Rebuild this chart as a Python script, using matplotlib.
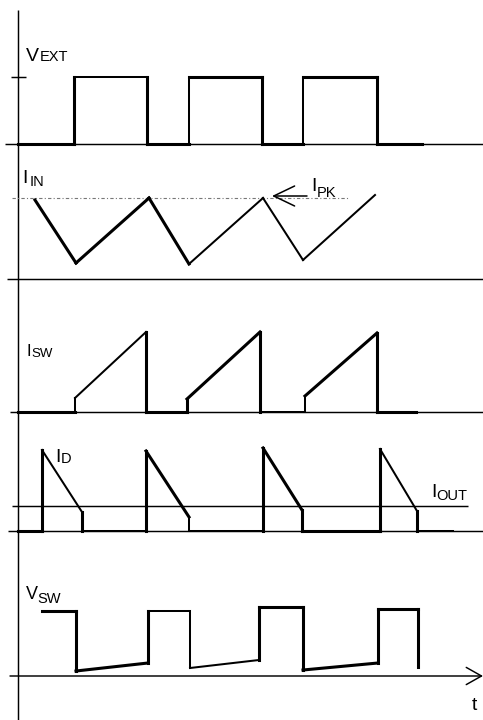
import matplotlib
matplotlib.use("Agg")
import matplotlib.pyplot as plt
import numpy as np
from matplotlib.collections import LineCollection

plt.rcParams['font.family'] = ['Liberation Sans', 'DejaVu Sans']

# time in arbitrary units (0 = vertical axis), levels = height above each trace's baseline
vext_t = [0, 56, 56, 129, 129, 171, 171, 244, 244, 285, 285, 359, 359, 404]
vext_v = [0, 0, 67, 67, 0, 0, 67, 67, 0, 0, 67, 67, 0, 0]

iin_t = [17, 58, 131, 171, 245, 285, 357]
iin_v = [79, 16, 81, 15, 81, 19, 84]
ipk_level = 81

isw_t = [0, 57, 57, 128, 128, 169, 169, 242, 242, 287, 287, 359, 359, 398]
isw_v = [0, 0, 14, 80, 0, 0, 13, 80, 0, 0, 16, 79, 0, 0]

id_t = [0, 24, 24, 64, 64, 128, 128, 171, 171, 245, 245, 284, 284, 362, 362, 399, 399, 435]
id_v = [0, 0, 81, 19, 0, 0, 80, 14, 0, 0, 83, 21, 0, 0, 82, 20, 0, 0]
iout_level = 25

vsw_t = [24, 58, 58, 130, 130, 172, 172, 241, 241, 285, 285, 360, 360, 400, 400]
vsw_v = [65, 65, 5, 13, 65, 65, 8, 16, 69, 69, 6, 13, 67, 67, 9]

# styles / layout
T, M = 2.2, 1.45
base_lw = 1.05
vext_w = [T, T, M, T, T, M, T, T, T, M, T, T, T]
iin_w = [T, T, T, M, M, M]
isw_w = [T, M, M, T, T, T, T, T, M, M, T, T, T]
id_w = [T, T, M, T, M, T, T, M, M, T, T, T, T, T, M, T, M]
vsw_w = [T, T, T, T, M, M, M, T, T, T, T, T, T, T]

base = {'vext': 144, 'iin': 279, 'isw': 412, 'id': 531, 'vsw': 676}

fig = plt.figure(figsize=(4.83, 7.2), dpi=100)
ax = fig.add_axes([0, 0, 1, 1])
ax.set_xlim(-18, 465)
ax.set_ylim(720, 0)
ax.axis('off')


def trace(t, v, y0, widths):
    pts = np.column_stack([t, y0 - np.array(v)])
    segs = [pts[i:i + 2] for i in range(len(pts) - 1)]
    lc = LineCollection(segs, linewidths=widths, colors='black',
                        capstyle='projecting', joinstyle='miter')
    ax.add_collection(lc)


def label(x, y, main, sub, xs, ys, size=14, subsize=10.5):
    ax.text(x, y, main, fontsize=size, va='baseline', ha='left')
    ax.text(xs, ys, sub, fontsize=subsize, va='baseline', ha='left')


# vertical axis
ax.vlines(0, 10, 720, color='black', lw=base_lw)

# baselines
ax.hlines(base['vext'], -13, 465, color='black', lw=base_lw)
ax.hlines(base['vext'] - vext_v[2], -7, 8, color='black', lw=base_lw)
ax.hlines(base['iin'], -11, 465, color='black', lw=base_lw)
ax.hlines(base['isw'], -8, 465, color='black', lw=base_lw)
ax.hlines(base['id'], -10, 465, color='black', lw=base_lw)
ax.hlines(base['id'] - iout_level, -6, 450, color='black', lw=base_lw)
ax.annotate('', xy=(465, base['vsw']), xytext=(-8, base['vsw']),
            arrowprops=dict(arrowstyle='->,head_length=1.1,head_width=0.62',
                            mutation_scale=10, lw=base_lw, color='black',
                            shrinkA=0, shrinkB=0))

# I_PK dotted level
ax.hlines(base['iin'] - ipk_level, -6, 330, color='#777777', lw=0.8,
          linestyles=[(0, (3, 2, 1, 2))])

trace(vext_t, vext_v, base['vext'], vext_w)
trace(iin_t, iin_v, base['iin'], iin_w)
trace(isw_t, isw_v, base['isw'], isw_w)
trace(id_t, id_v, base['id'], id_w)
trace(vsw_t, vsw_v, base['vsw'], vsw_w)

# I_PK arrow
ax.annotate('', xy=(254, base['iin'] - 83), xytext=(289, base['iin'] - 83),
            arrowprops=dict(arrowstyle='->,head_length=1.5,head_width=0.72',
                            mutation_scale=10, lw=1.1, color='black',
                            shrinkA=0, shrinkB=0))

# labels
label(8, 61, 'V', 'EXT', 21.5, 61)
label(4, 183, 'I', 'IN', 11.5, 186)
label(293, 191, 'I', 'PK', 299, 197)
label(8, 356, 'I', 'SW', 13, 357, size=12, subsize=9.5)
label(37, 462, 'I', 'D', 43, 463)
label(413, 497, 'I', 'OUT', 418, 500)
label(8, 599, 'V', 'SW', 19.5, 603, size=13)
ax.text(454, 710, 't', fontsize=14, va='baseline', ha='left')

fig.savefig('out.png', dpi=100)
